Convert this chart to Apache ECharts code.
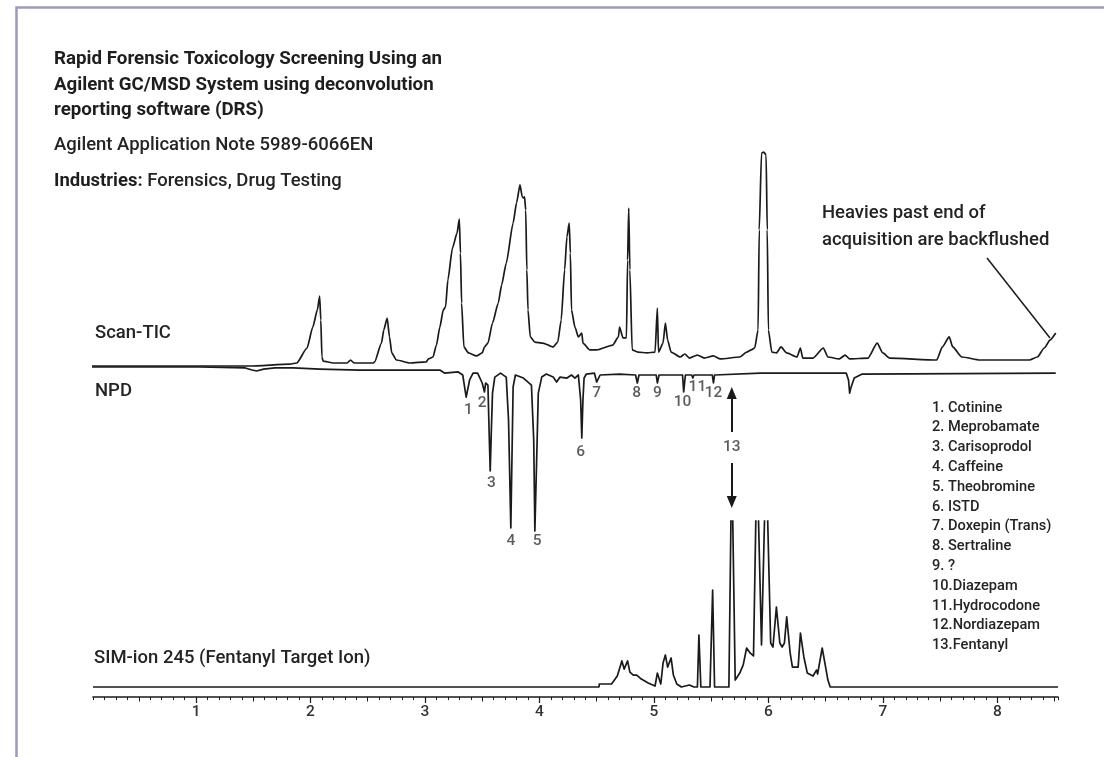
<!DOCTYPE html>
<html>
<head>
<meta charset="utf-8">
<title>Rapid Forensic Toxicology Screening</title>
<script src="https://cdn.jsdelivr.net/npm/echarts@6/dist/echarts.min.js"></script>
<style>
  html, body { margin: 0; padding: 0; background: #fff; }
  #chart { width: 1104px; height: 757px; }
</style>
</head>
<body>
<div id="chart"></div>
<script>
// retention time (min) and relative abundance (%)
const ticTime = [0.00, 1.47, 1.82, 1.88, 1.97, 2.02, 2.06, 2.08, 2.09, 2.10,
  2.11, 2.20, 2.32, 2.35, 2.38, 2.55, 2.56, 2.62, 2.64, 2.67,
  2.69, 2.71, 2.75, 2.87, 3.01, 3.03, 3.07, 3.10, 3.13, 3.16,
  3.18, 3.20, 3.24, 3.28, 3.30, 3.31, 3.32, 3.34, 3.38, 3.45,
  3.50, 3.52, 3.55, 3.59, 3.64, 3.67, 3.71, 3.77, 3.80, 3.83,
  3.85, 3.86, 3.87, 3.88, 3.89, 3.90, 3.92, 3.96, 4.03, 4.12,
  4.16, 4.19, 4.22, 4.24, 4.26, 4.27, 4.28, 4.31, 4.34, 4.37,
  4.38, 4.44, 4.50, 4.64, 4.69, 4.70, 4.73, 4.76, 4.77, 4.78,
  4.79, 4.81, 4.86, 4.94, 5.01, 5.03, 5.04, 5.08, 5.10, 5.12,
  5.15, 5.23, 5.27, 5.31, 5.38, 5.44, 5.52, 5.58, 5.75, 5.81,
  5.85, 5.88, 5.91, 5.92, 5.94, 5.96, 5.98, 5.99, 6.00, 6.03,
  6.07, 6.11, 6.16, 6.25, 6.28, 6.30, 6.39, 6.48, 6.52, 6.62,
  6.67, 6.71, 6.87, 6.95, 7.00, 7.06, 7.47, 7.52, 7.58, 7.61,
  7.69, 7.85, 8.28, 8.35, 8.41, 8.46, 8.51];
const ticAbund = [0, 0, 0.9, 1.4, 8.4, 18.2, 26.2, 32.7, 21.5, 4.2,
  2.3, 1.4, 1.4, 2.8, 1.4, 1.4, 1.9, 10.7, 16.8, 22.4,
  13.6, 6.1, 2.8, 1.4, 1.9, 3.3, 4.2, 9.8, 18.2, 26.2,
  27.6, 40.2, 55.1, 62.1, 68.7, 52.8, 29.4, 8.9, 6.1, 4.7,
  6.1, 8.9, 10.7, 20.1, 29.4, 37.9, 48.1, 66.8, 76.2, 84.6,
  79.0, 78.5, 79.0, 72.9, 44.9, 26.2, 13.6, 11.2, 10.7, 8.9,
  11.2, 21.5, 44.9, 60.3, 66.8, 52.8, 26.2, 18.2, 13.6, 15.4,
  10.7, 7.5, 7.5, 9.8, 13.6, 18.2, 13.1, 13.1, 49.5, 73.8,
  44.9, 7.5, 6.5, 6.1, 6.5, 27.1, 6.5, 10.7, 20.1, 12.1,
  6.5, 4.2, 5.6, 3.7, 5.1, 3.7, 4.7, 3.3, 4.2, 6.5,
  7.5, 8.4, 16.8, 63.6, 99.5, 100, 98.6, 63.6, 16.8, 6.5,
  6.1, 8.9, 6.1, 4.2, 8.4, 3.7, 3.7, 8.4, 4.2, 3.3,
  5.1, 3.3, 3.7, 10.7, 6.1, 3.7, 2.8, 8.9, 13.6, 8.9,
  4.2, 2.8, 2.8, 4.2, 8.4, 12.1, 15.4];

// NPD response (%), drawn downwards
const npdTime = [0.00, 1.03, 1.43, 1.49, 1.53, 1.59, 1.69, 1.85, 2.08, 2.43,
  2.96, 3.13, 3.17, 3.29, 3.33, 3.36, 3.39, 3.42, 3.46, 3.50,
  3.52, 3.53, 3.55, 3.56, 3.57, 3.58, 3.59, 3.61, 3.66, 3.71,
  3.73, 3.75, 3.77, 3.79, 3.86, 3.90, 3.93, 3.95, 3.96, 3.98,
  3.99, 4.02, 4.06, 4.12, 4.15, 4.18, 4.24, 4.28, 4.31, 4.34,
  4.36, 4.37, 4.38, 4.39, 4.41, 4.48, 4.50, 4.53, 4.70, 4.84,
  4.855, 4.87, 5.02, 5.03, 5.045, 5.25, 5.26, 5.275, 5.33, 5.34,
  5.35, 5.51, 5.52, 5.53, 5.93, 6.68, 6.70, 6.71, 6.72, 6.75,
  6.82, 8.51];
const npdResp = [0, 0, 0.6, 1.9, 2.5, 1.3, 0.6, 0.6, 1.3, 1.9,
  1.9, 1.9, 3.8, 3.1, 5.0, 18.8, 8.1, 3.8, 3.8, 10.0,
  15.6, 10.0, 11.3, 39.4, 65.0, 39.4, 16.3, 6.3, 3.8, 6.3,
  33.1, 100.6, 12.5, 5.0, 6.9, 9.4, 11.3, 45.6, 102.5, 45.6,
  16.3, 6.3, 4.4, 6.3, 9.4, 6.3, 6.9, 5.0, 6.9, 5.0,
  20.6, 44.4, 20.6, 6.9, 4.4, 3.8, 9.4, 5.0, 4.4, 5.0,
  10.0, 5.0, 5.0, 10.0, 5.0, 5.0, 15.6, 5.0, 5.0, 6.9,
  5.0, 5.0, 10.0, 5.0, 3.8, 3.8, 8.1, 16.3, 13.1, 6.9,
  4.4, 3.8];

// SIM ion 245, values above 100 run off the top of the panel
const simTime = [0.10, 4.52, 4.523, 4.63, 4.68, 4.72, 4.74, 4.77, 4.79, 4.82,
  4.85, 4.89, 4.95, 5.01, 5.03, 5.06, 5.08, 5.10, 5.12, 5.15,
  5.17, 5.20, 5.24, 5.31, 5.35, 5.38, 5.393, 5.41, 5.49, 5.513,
  5.53, 5.655, 5.68, 5.71, 5.75, 5.78, 5.81, 5.84, 5.87, 5.88,
  5.90, 5.94, 5.98, 6.02, 6.04, 6.07, 6.10, 6.12, 6.14, 6.16,
  6.19, 6.21, 6.26, 6.28, 6.31, 6.34, 6.39, 6.42, 6.43, 6.47,
  6.50, 6.52, 6.54, 8.53];
const simAbund = [0, 0, 1.8, 1.8, 6.6, 15.7, 10.8, 15.7, 9.0, 7.2,
  7.2, 4.8, 2.4, 0.6, 8.4, 1.8, 14.5, 19.3, 12.0, 17.5,
  7.2, 1.8, 0, 1.2, 0, 0, 31.3, 0, 0, 58.4,
  0, 0, 140, 4.2, 8.4, 13.3, 23.5, 20.5, 18.7, 19.9,
  140, 25.3, 140, 26.5, 24.1, 48.2, 26.5, 24.1, 26.5, 42.2,
  20.5, 12.0, 12.0, 32.5, 18.1, 8.4, 6.6, 10.2, 7.8, 23.5,
  12.0, 4.2, 0, 0];

// numbered NPD peaks: label time and depth
const peakNo = [1, 2, 3, 4, 5, 6, 7, 8, 9, 10, 11, 12, 13];
const peakTime = [3.38, 3.50, 3.58, 3.75, 3.98, 4.36, 4.50, 4.85, 5.03, 5.25, 5.38, 5.52, 5.68];
const peakDepth = [26.9, 22.5, 72.5, 108.8, 108.8, 53.1, 16.3, 16.3, 16.3, 21.9, 12.5, 16.3, 50.0];

const compounds = ['1. Cotinine', '2. Meprobamate', '3. Carisoprodol', '4. Caffeine',
  '5. Theobromine', '6. ISTD', '7. Doxepin (Trans)', '8. Sertraline', '9. ?',
  '10.Diazepam', '11.Hydrocodone', '12.Nordiazepam', '13.Fentanyl'];

const majorTicks = [1, 2, 3, 4, 5, 6, 7, 8];
const halfTicks = [0.5, 1.5, 2.5, 3.5, 4.5, 5.5, 6.5, 7.5, 8.5];

// layout (pixels)
const X_MIN = 0.1, X_MAX = 8.53;
const LEFT = 93, RIGHT = 46, GRID_TOP = 60, AXIS_Y = 697, BOTTOM = 757 - AXIS_Y;
const TIC_BASE = 366, TIC_PX = 2.14;
const NPD_BASE = 367, NPD_PX = 1.6;
const SIM_BASE = 687, SIM_PX = 1.66, SIM_TOP = 521;
const INK = '#1a1a1a';
const TEXT = '#242424';

function hasFont(name) {
  const ctx = document.createElement('canvas').getContext('2d');
  const probe = 'Forensic Toxicology 0123456789';
  ctx.font = '40px monospace';
  const base = ctx.measureText(probe).width;
  ctx.font = '40px "' + name + '", monospace';
  return ctx.measureText(probe).width !== base;
}
const narrow = hasFont('Liberation Sans Narrow') ? 'Liberation Sans Narrow' : 'Roboto';
const k = narrow === 'Roboto' ? 0.86 : 1;
const REG = narrow === 'Roboto' ? 500 : 'normal';

const zip = (xs, ys) => xs.map((x, i) => [x, ys[i]]);

function label(x, y, text, size, weight) {
  return {
    type: 'text', x: x, y: y, silent: true,
    style: {
      text: text, fill: TEXT, fontSize: size * k, fontFamily: narrow,
      fontWeight: weight || REG, align: 'left', verticalAlign: 'middle'
    }
  };
}

const chart = echarts.init(document.getElementById('chart'), null, { renderer: 'canvas' });

const traceLine = { color: INK, width: 1.7, join: 'round' };

const option = {
  animation: false,
  backgroundColor: '#ffffff',
  grid: [
    { left: LEFT, right: RIGHT, top: GRID_TOP, bottom: BOTTOM },
    { left: LEFT, right: RIGHT, top: SIM_TOP, bottom: BOTTOM },
    { left: LEFT, right: RIGHT, top: GRID_TOP, bottom: BOTTOM }
  ],
  xAxis: [
    {
      gridIndex: 0, type: 'value', min: X_MIN, max: X_MAX, interval: 0.1,
      axisLine: { onZero: false, lineStyle: { color: INK, width: 1.6 } },
      axisTick: { length: 3, lineStyle: { color: INK, width: 1 } },
      splitLine: { show: false },
      axisLabel: {
        margin: 8, fontSize: 18 * k, fontFamily: narrow, fontWeight: REG, color: '#333333',
        formatter: v => Math.abs(v - Math.round(v)) < 1e-6 ? String(Math.round(v)) : ''
      }
    },
    {
      gridIndex: 1, type: 'value', min: X_MIN, max: X_MAX,
      axisLine: { show: false, onZero: false },
      axisTick: { length: 4.5, customValues: halfTicks, lineStyle: { color: INK, width: 1 } },
      axisLabel: { show: false }, splitLine: { show: false }
    },
    {
      gridIndex: 2, type: 'value', min: X_MIN, max: X_MAX,
      axisLine: { show: false, onZero: false },
      axisTick: { length: 6, customValues: majorTicks, lineStyle: { color: INK, width: 1.2 } },
      axisLabel: { show: false }, splitLine: { show: false }
    }
  ],
  yAxis: [
    { gridIndex: 0, type: 'value', show: false,
      min: -(AXIS_Y - TIC_BASE) / TIC_PX, max: (TIC_BASE - GRID_TOP) / TIC_PX },
    { gridIndex: 0, type: 'value', show: false, inverse: true,
      min: -(NPD_BASE - GRID_TOP) / NPD_PX, max: (AXIS_Y - NPD_BASE) / NPD_PX },
    { gridIndex: 1, type: 'value', show: false,
      min: -(AXIS_Y - SIM_BASE) / SIM_PX, max: (SIM_BASE - SIM_TOP) / SIM_PX },
    { gridIndex: 2, type: 'value', show: false, min: 0, max: 1 }
  ],
  series: [
    {
      name: 'Scan-TIC', type: 'line', xAxisIndex: 0, yAxisIndex: 0,
      data: zip(ticTime, ticAbund), symbol: 'none', clip: false, silent: true,
      smooth: 0.2, smoothMonotone: 'x',
      lineStyle: traceLine,
      markLine: {
        silent: true, symbol: ['none', 'none'],
        lineStyle: { color: INK, width: 1.5, type: 'solid' },
        label: { show: false },
        data: [[{ coord: [7.91, 50.5] }, { coord: [8.46, 13.1] }]]
      }
    },
    {
      name: 'NPD', type: 'line', xAxisIndex: 0, yAxisIndex: 1,
      data: zip(npdTime, npdResp), symbol: 'none', clip: false, silent: true,
      lineStyle: traceLine,
      markLine: {
        silent: true, symbol: ['none', 'triangle'], symbolSize: [10, 12],
        lineStyle: { color: INK, width: 2, type: 'solid' },
        itemStyle: { color: INK },
        label: { show: false },
        data: [
          [{ coord: [5.68, 40.6] }, { coord: [5.68, 16.3] }],
          [{ coord: [5.68, 60.0] }, { coord: [5.68, 84.4] }]
        ]
      }
    },
    {
      name: 'SIM-ion 245', type: 'line', xAxisIndex: 1, yAxisIndex: 2,
      data: zip(simTime, simAbund), symbol: 'none', clip: true, silent: true,
      lineStyle: traceLine
    },
    {
      name: 'peaks', type: 'scatter', xAxisIndex: 0, yAxisIndex: 1,
      symbolSize: 0, clip: false, silent: true,
      data: peakNo.map((n, i) => ({ name: String(n), value: [peakTime[i], peakDepth[i]] })),
      label: {
        show: true, position: 'inside', formatter: p => p.name,
        fontSize: 18 * k, fontFamily: narrow, fontWeight: REG, color: '#333333'
      }
    }
  ],
  graphic: [
    {
      type: 'polyline', silent: true,
      shape: { points: [[16.5, 757], [16.5, 7.5], [1104, 7.5]] },
      style: { stroke: '#9c9cba', lineWidth: 2.5, fill: null }
    },
    {
      type: 'text', x: 54, y: 47, silent: true,
      style: {
        text: 'Rapid Forensic Toxicology Screening Using an\nAgilent GC/MSD System using deconvolution\nreporting software (DRS)',
        fill: '#1e1e1e', fontSize: 21.8 * k, fontFamily: narrow, fontWeight: 'bold',
        lineHeight: 25.3, align: 'left', verticalAlign: 'top'
      }
    },
    label(54, 145, 'Agilent Application Note 5989-6066EN', 21.5),
    {
      type: 'text', x: 54, y: 181, silent: true,
      style: {
        text: '{b|Industries:} {r|Forensics, Drug Testing}',
        fill: TEXT, fontSize: 21.5 * k, fontFamily: narrow, fontWeight: REG,
        align: 'left', verticalAlign: 'middle',
        rich: {
          b: { fontSize: 21.5 * k, fontFamily: narrow, fontWeight: 'bold', fill: '#1e1e1e' },
          r: { fontSize: 21.5 * k, fontFamily: narrow, fontWeight: REG, fill: TEXT }
        }
      }
    },
    label(95, 333, 'Scan-TIC', 21.5),
    label(95, 391, 'NPD', 21.5),
    label(94, 658, 'SIM-ion 245 (Fentanyl Target Ion)', 21.5),
    {
      type: 'text', x: 822, y: 199.5, silent: true,
      style: {
        text: 'Heavies past end of\nacquisition are backflushed',
        fill: TEXT, fontSize: 21.5 * k, fontFamily: narrow, fontWeight: REG,
        lineHeight: 27, align: 'left', verticalAlign: 'top'
      }
    },
    {
      type: 'text', x: 932, y: 398, silent: true,
      style: {
        text: compounds.join('\n'),
        fill: TEXT, fontSize: 17 * k, fontFamily: narrow, fontWeight: REG,
        lineHeight: 19.8, align: 'left', verticalAlign: 'top'
      }
    }
  ]
};

chart.setOption(option);
</script>
</body>
</html>
